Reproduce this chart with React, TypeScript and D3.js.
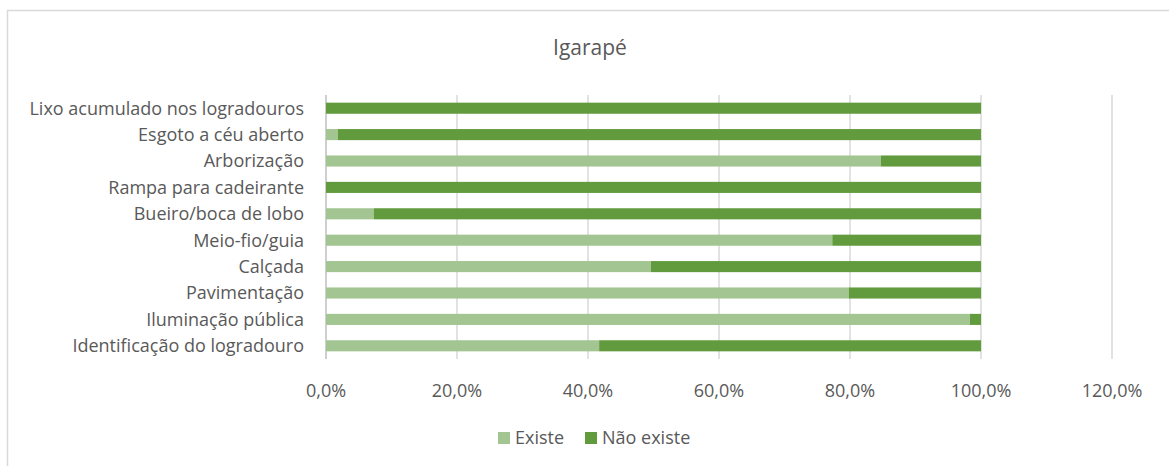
import React from "react";
import * as d3 from "d3";

const categories = [
  "Lixo acumulado nos logradouros",
  "Esgoto a céu aberto",
  "Arborização",
  "Rampa para cadeirante",
  "Bueiro/boca de lobo",
  "Meio-fio/guia",
  "Calçada",
  "Pavimentação",
  "Iluminação pública",
  "Identificação do logradouro",
];
const existe = [0, 0.018, 0.847, 0, 0.073, 0.773, 0.496, 0.798, 0.983, 0.417];
const naoExiste = existe.map((v) => 1 - v);
const ticks = [0, 0.2, 0.4, 0.6, 0.8, 1.0, 1.2];
const seriesNames = ["Existe", "Não existe"];
const colors = ["#A2C591", "#629B3D"];

const W = 1169;
const H = 466;
const FONT = "'Open Sans', 'Noto Sans', sans-serif";

export default function App() {
  const x = d3.scaleLinear().domain([0, 1.2]).range([326, 1112]);
  const y = d3.scaleBand().domain(categories).range([95, 359]).paddingInner(0.58).paddingOuter(0.29);
  const fmt = (v: number) => (v * 100).toFixed(1).replace(".", ",") + "%";
  return (
    <svg width={W} height={H} style={{ position: "absolute", left: 0, top: 0, background: "#fff" }}>
      <rect x={7.5} y={10.5} width={W + 10} height={H + 10} fill="#fff" stroke="#d9d9d9" strokeWidth={1.5} />
      <text x={590} y={48} dy="0.35em" textAnchor="middle" fontFamily={FONT} fontSize={21} fill="#595959">Igarapé</text>
      {ticks.map((t) => (
        <line key={t} x1={x(t)} x2={x(t)} y1={95} y2={359} stroke={t === 0 ? "#bfbfbf" : "#d9d9d9"} strokeWidth={1.5} />
      ))}
      {categories.map((c, i) => (
        <g key={c}>
          <rect x={x(0)} y={y(c)} width={x(existe[i]) - x(0)} height={y.bandwidth()} fill={colors[0]} />
          <rect x={x(existe[i])} y={y(c)} width={x(existe[i] + naoExiste[i]) - x(existe[i])} height={y.bandwidth()} fill={colors[1]} />
          <text x={304} y={y(c)! + y.bandwidth() / 2} dy="0.35em" textAnchor="end" fontFamily={FONT} fontSize={18} fill="#595959">{c}</text>
        </g>
      ))}
      {ticks.map((t) => (
        <text key={t} x={x(t)} y={391} dy="0.35em" textAnchor="middle" fontFamily={FONT} fontSize={18} fill="#595959">{fmt(t)}</text>
      ))}
      <g>
        <rect x={498} y={432} width={12} height={12} fill={colors[0]} />
        <text x={515} y={438} dy="0.35em" fontFamily={FONT} fontSize={18} fill="#595959">{seriesNames[0]}</text>
        <rect x={585} y={432} width={12} height={12} fill={colors[1]} />
        <text x={602} y={438} dy="0.35em" fontFamily={FONT} fontSize={18} fill="#595959">{seriesNames[1]}</text>
      </g>
    </svg>
  );
}
